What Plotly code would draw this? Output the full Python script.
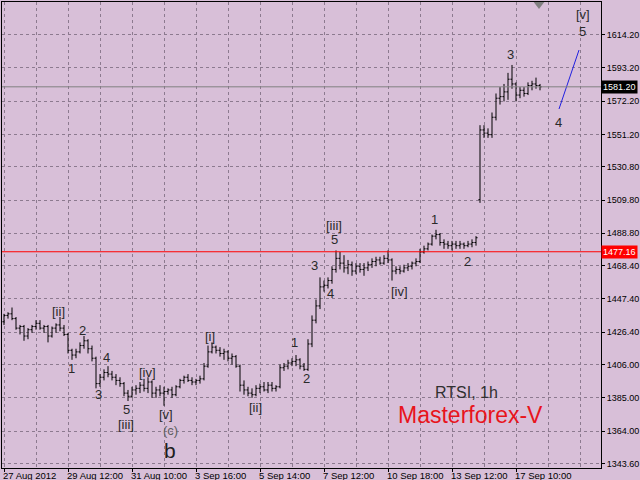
import plotly.graph_objects as go

opens = [1433,1437,1438,1435,1429,1430,1424,1428,1430,1432,1429,1430,1424,1429,1431,1429,1425,1415,1412,1414,
         1418,1421,1416,1410,1394,1398,1401,1400,1398,1396,1394,1388,1386,1390,1391,1393,1391,1395,1388,1390,
         1388,1389,1390,1387,1392,1396,1398,1396,1395,1396,1397,1405,1414,1417,1415,1413,1414,1410,1411,1405,
         1393,1390,1388,1387,1391,1392,1390,1393,1391,1392,1404,1405,1407,1408,1409,1405,1403,1419,1434,1443,
         1455,1456,1459,1466,1473,1470,1467,1469,1465,1468,1466,1467,1469,1471,1472,1470,1473,1472,1465,1466,
         1465,1467,1468,1470,1471,1477,1479,1482,1487,1488,1483,1482,1481,1482,1481,1482,1481,1482,1483,1510,
         1554,1552,1551,1562,1574,1575,1578,1586,1583,1576,1579,1577,1582,1583,1582]
highs = [1438,1439,1442,1436,1431,1431,1429,1431,1434,1434,1431,1431,1430,1432,1436,1431,1426,1416,1416,1420,
         1424,1422,1418,1411,1400,1403,1405,1402,1400,1398,1395,1390,1392,1393,1395,1397,1398,1396,1392,1393,
         1392,1391,1392,1393,1397,1399,1400,1398,1397,1399,1407,1418,1420,1418,1417,1416,1415,1413,1412,1406,
         1396,1392,1391,1393,1394,1395,1395,1395,1393,1406,1407,1409,1410,1412,1410,1407,1422,1437,1447,1461,
         1459,1461,1468,1478,1477,1475,1472,1471,1470,1470,1470,1471,1473,1474,1474,1475,1478,1473,1468,1468,
         1469,1470,1471,1473,1479,1481,1483,1488,1491,1489,1485,1484,1484,1484,1484,1483,1484,1485,1487,1557,
         1557,1555,1565,1577,1581,1583,1590,1595,1584,1581,1581,1584,1585,1587,1583]
lows = [1431,1435,1434,1428,1425,1421,1422,1426,1428,1428,1426,1420,1423,1426,1427,1424,1413,1409,1410,1413,
        1416,1413,1408,1391,1392,1396,1398,1396,1393,1392,1386,1383,1385,1387,1388,1389,1388,1385,1385,1386,
        1380,1387,1385,1386,1391,1394,1395,1393,1393,1394,1396,1404,1413,1413,1411,1409,1408,1406,1404,1389,
        1387,1386,1385,1386,1388,1389,1388,1389,1389,1391,1402,1403,1405,1405,1403,1402,1402,1417,1432,1441,
        1452,1454,1457,1464,1466,1464,1463,1462,1463,1464,1462,1465,1467,1468,1469,1469,1470,1459,1463,1463,
        1464,1465,1466,1468,1470,1476,1478,1481,1485,1481,1479,1479,1478,1479,1479,1479,1480,1480,1481,1508,
        1549,1549,1549,1560,1570,1572,1573,1580,1572,1574,1575,1576,1579,1580,1579]
closes = [1437,1438,1435,1429,1430,1424,1428,1430,1432,1429,1430,1424,1429,1431,1429,1425,1415,1412,1414,1418,
          1421,1416,1410,1394,1398,1401,1400,1398,1396,1394,1388,1386,1390,1391,1393,1391,1395,1388,1390,1388,
          1389,1390,1387,1392,1396,1398,1396,1395,1396,1397,1405,1414,1417,1415,1413,1414,1410,1411,1405,1393,
          1390,1388,1387,1391,1392,1390,1393,1391,1392,1404,1405,1407,1408,1409,1405,1403,1419,1434,1443,1455,
          1456,1459,1466,1473,1470,1467,1469,1465,1468,1466,1467,1469,1471,1472,1470,1473,1472,1465,1466,1465,
          1467,1468,1470,1471,1477,1479,1482,1487,1488,1483,1482,1481,1482,1481,1482,1481,1482,1483,1486,1554,
          1552,1551,1562,1574,1575,1578,1586,1583,1576,1579,1577,1582,1583,1582,1581.2]

x_tick_labels = ["27 Aug 2012", "29 Aug 12:00", "31 Aug 10:00", "3 Sep 16:00", "5 Sep 14:00",
                 "7 Sep 12:00", "10 Sep 18:00", "13 Sep 12:00", "17 Sep 10:00"]
bars_per_label = 16
y_tick_values = [1614.20, 1593.20, 1572.20, 1551.20, 1530.80, 1509.80, 1488.80, 1468.40,
                 1447.40, 1426.40, 1406.00, 1385.00, 1364.00, 1343.60]
bid_price = 1581.20
level_price = 1477.16

# wave labels: (text, bar index, price)
wave_labels = [("[ii]", 13.5, 1439.2), ("2", 19.5, 1427.2), ("1", 16.75, 1403.8), ("3", 23.5, 1387.4),
               ("4", 25.5, 1410.2), ("5", 30.5, 1377.4), ("[iii]", 30.5, 1368.5), ("[iv]", 35.75, 1400.7),
               ("[v]", 40.5, 1374.8), ("[i]", 51.5, 1424.0), ("[ii]", 62.75, 1379.2), ("1", 72.5, 1420.2),
               ("2", 75.5, 1397.5), ("3", 77.5, 1468.2), ("4", 81.5, 1451.1), ("5", 82.5, 1484.6),
               ("[iii]", 82.5, 1494.0), ("[iv]", 98.75, 1451.8), ("1", 107.5, 1497.8), ("2", 115.75, 1471.3),
               ("3", 126.5, 1601.3), ("4", 138.5, 1558.4), ("5", 144.5, 1615.8), ("[v]", 144.75, 1627.1)]
projection_x = [138.75, 143.75]
projection_y = [1567.2, 1604.4]

idx = list(range(len(closes)))
BG = "#D8BFD8"
GRID = "#8c7a8f"
FONT = "Liberation Sans"
label_ticks = [i * bars_per_label for i in range(len(x_tick_labels))]

fig = go.Figure()
fig.add_trace(go.Ohlc(x=idx, open=opens, high=highs, low=lows, close=closes,
                      increasing=dict(line=dict(color="black", width=1)),
                      decreasing=dict(line=dict(color="black", width=1)),
                      tickwidth=0.4, hoverinfo="skip", showlegend=False))
fig.add_trace(go.Scatter(x=projection_x, y=projection_y, mode="lines",
                         line=dict(color="#2020e0", width=1), hoverinfo="skip", showlegend=False))
fig.add_trace(go.Scatter(x=[133.75], y=[1633.5], mode="markers",
                         marker=dict(symbol="triangle-down", size=10, color="#808080"),
                         cliponaxis=True, hoverinfo="skip", showlegend=False))

fig.add_shape(type="line", xref="paper", x0=0, x1=1, y0=bid_price, y1=bid_price,
              line=dict(color="#808080", width=1), layer="above")
fig.add_shape(type="line", xref="paper", x0=0, x1=1, y0=level_price, y1=level_price,
              line=dict(color="#ff0000", width=1), layer="above")

for t, xi, yp in wave_labels:
    fig.add_annotation(x=xi, y=yp, text=t, showarrow=False,
                       font=dict(family=FONT, size=13, color="#2a2a2a"))
fig.add_annotation(x=41.5, y=1364.5, text="(c)", showarrow=False, borderpad=0,
                   font=dict(family=FONT, size=13, color="#606060"))
fig.add_annotation(x=41.5, y=1352.0, text="b", showarrow=False, borderpad=0,
                   font=dict(family=FONT, size=21, color="#202020"))
fig.add_annotation(x=115.6, y=1388.1, text="RTSI, 1h", showarrow=False,
                   font=dict(family=FONT, size=16, color="#303030"))
fig.add_annotation(x=116.5, y=1374.2, text="Masterforex-V", showarrow=False,
                   font=dict(family=FONT, size=23, color="#e8141c"))

for val, bg in ((bid_price, "black"), (level_price, "#ff0000")):
    fig.add_annotation(xref="paper", x=1.0, y=val, xanchor="left", xshift=0,
                       text=f"{val:.2f}", showarrow=False, bgcolor=bg, borderpad=1,
                       font=dict(family=FONT, size=9, color="white"))

for xi, t in zip(label_ticks, x_tick_labels):
    fig.add_annotation(x=xi, xref="x", y=0, yref="paper", yanchor="top", xanchor="left",
                       xshift=-3, yshift=0, text=t, showarrow=False,
                       font=dict(family=FONT, size=9.5, color="black"))

fig.update_layout(
    width=640, height=480,
    margin=dict(l=2, r=39, t=2, b=12),
    paper_bgcolor=BG, plot_bgcolor=BG,
    showlegend=False,
    xaxis=dict(range=[-0.5, 149.25], rangeslider=dict(visible=False),
               tickvals=label_ticks, ticktext=["" for _ in label_ticks],
               ticks="outside", ticklen=3, tickcolor="black", automargin=False,
               showgrid=True, gridcolor=GRID, griddash="3px,3px", gridwidth=1,
               minor=dict(dtick=8, tick0=0, showgrid=True, gridcolor=GRID, griddash="3px,3px", ticks=""),
               showline=True, linecolor="black", linewidth=1, mirror=True, zeroline=False,
               fixedrange=True),
    yaxis=dict(range=[1340.76, 1634.7], side="right", automargin=False,
               tickvals=y_tick_values, ticktext=[f"{v:.2f}" for v in y_tick_values],
               ticks="outside", ticklen=3, tickcolor="black",
               tickfont=dict(family=FONT, size=9, color="black"),
               showgrid=True, gridcolor=GRID, griddash="3px,3px", gridwidth=1,
               showline=True, linecolor="black", linewidth=1, mirror=True, zeroline=False,
               fixedrange=True),
)

fig.write_html("out.html", config={"displayModeBar": False},
               post_script="document.body.style.margin='0';document.body.style.background='#D8BFD8';")
